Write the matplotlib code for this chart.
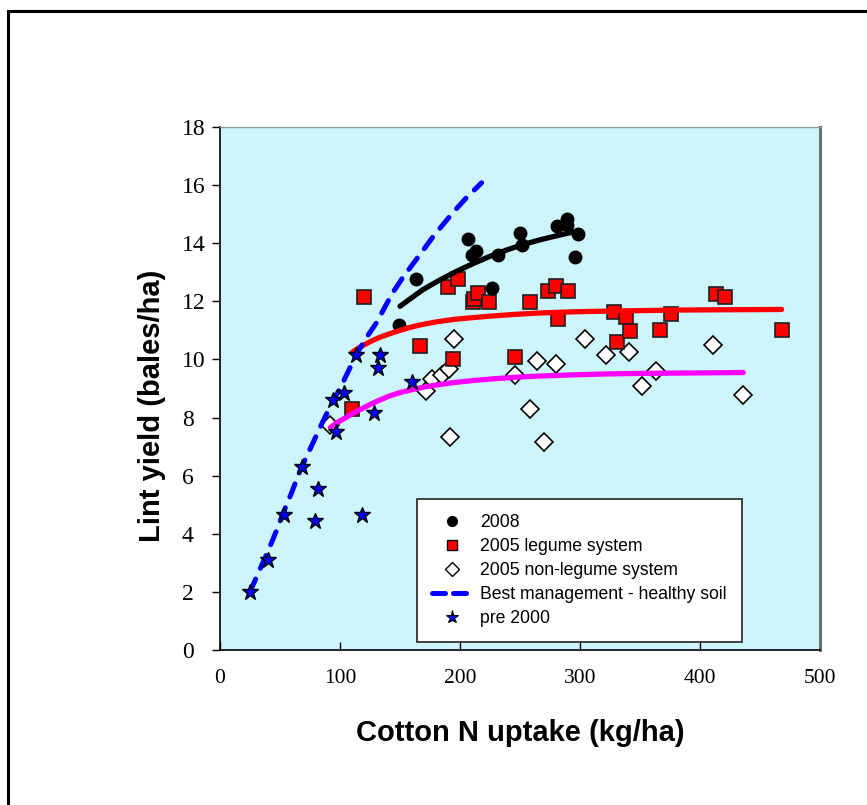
import matplotlib
matplotlib.use("Agg")
import matplotlib.pyplot as plt
from matplotlib.lines import Line2D
from matplotlib.patches import Rectangle

# ---- data ----
# 2008 (black circles)
x_2008 = [149, 163, 207, 210, 213, 227, 232, 250, 252, 281, 289, 289, 296, 298]
y_2008 = [11.2, 12.76, 14.14, 13.59, 13.72, 12.45, 13.59, 14.34, 13.93, 14.59, 14.83, 14.62, 13.52, 14.31]

# 2005 legume system (red squares)
x_leg = [110, 120, 167, 190, 194, 198, 211, 212, 215, 224, 246, 258, 273, 280, 282,
         290, 328, 331, 338, 342, 367, 376, 413, 421, 468]
y_leg = [8.28, 12.14, 10.45, 12.48, 10.0, 12.76, 11.97, 12.07, 12.28, 11.97, 10.1, 11.97, 12.34, 12.52, 11.38,
         12.34, 11.62, 10.59, 11.45, 10.97, 11.0, 11.55, 12.24, 12.14, 11.03]

# 2005 non-legume system (white diamonds)
x_non = [92, 172, 177, 185, 191, 192, 195, 246, 258, 264, 270, 280, 304, 322, 341, 352, 363, 411, 436]
y_non = [7.76, 8.9, 9.31, 9.48, 9.66, 7.34, 10.69, 9.45, 8.31, 9.93, 7.17, 9.86, 10.69, 10.17, 10.24,
         9.07, 9.59, 10.48, 8.76]

# pre 2000 (blue stars)
x_pre = [25, 40, 53, 68, 79, 82, 94, 97, 103, 113, 118, 128, 132, 133, 160]
y_pre = [2.0, 3.1, 4.66, 6.31, 4.45, 5.55, 8.62, 7.52, 8.83, 10.17, 4.66, 8.17, 9.72, 10.17, 9.24]

# fitted curves
x_best = [25, 33, 40, 47, 53, 60, 67, 76, 85, 92, 100, 107, 114, 122, 131, 138, 144, 152,
          161, 170, 178, 186, 194, 205, 218]
y_best = [2.0, 2.75, 3.4, 4.1, 4.75, 5.45, 6.2, 7.0, 7.8, 8.4, 9.0, 9.6, 10.2, 10.75, 11.3,
          11.85, 12.3, 12.8, 13.3, 13.8, 14.25, 14.65, 15.05, 15.55, 16.08]

x_fit08 = [150, 160, 169, 183, 197, 211, 225, 239, 253, 267, 281, 298]
y_fit08 = [11.83, 12.13, 12.4, 12.73, 13.03, 13.3, 13.55, 13.77, 13.96, 14.12, 14.26, 14.42]

x_fitleg = [110, 115, 120, 126, 133, 141, 150, 158, 167, 180, 195, 208, 222, 245, 267, 295,
            320, 350, 380, 420, 468]
y_fitleg = [10.24, 10.38, 10.5, 10.63, 10.76, 10.88, 11.0, 11.1, 11.19, 11.29, 11.38, 11.43,
            11.48, 11.55, 11.6, 11.64, 11.66, 11.68, 11.7, 11.71, 11.72]

x_fitnon = [92, 98, 105, 111, 117, 125, 133, 141, 150, 160, 170, 182, 194, 212, 230, 248,
            267, 295, 320, 350, 380, 410, 436]
y_fitnon = [7.66, 7.84, 8.0, 8.15, 8.28, 8.45, 8.6, 8.74, 8.86, 8.96, 9.05, 9.13, 9.2, 9.28,
            9.34, 9.39, 9.43, 9.47, 9.5, 9.52, 9.53, 9.54, 9.55]

labels = ["2008", "2005 legume system", "2005 non-legume system",
          "Best management - healthy soil", "pre 2000"]

# ---- figure ----
fig = plt.figure(figsize=(8.67, 8.05), dpi=100)
ax = fig.add_axes([220/867, 1-650/805, 600/867, 523/805])
ax.set_facecolor("#ccf6fc")

ax.plot(x_non, y_non, "D", ms=9, mfc="white", mec="black", mew=1.2, ls="none", zorder=3)
ax.plot(x_leg, y_leg, "s", ms=10, mfc="#ff0000", mec="#202020", mew=1.2, ls="none", zorder=3)
ax.plot(x_2008, y_2008, "o", ms=9, mfc="black", mec="black", ls="none", zorder=3)

ax.plot(x_fitnon, y_fitnon, color="#ff00ff", lw=3.8, solid_capstyle="round", zorder=4)
ax.plot(x_fitleg, y_fitleg, color="#ff0000", lw=3.8, solid_capstyle="round", zorder=4)
ax.plot(x_fit08, y_fit08, color="black", lw=3.8, solid_capstyle="round", zorder=4)
ax.plot(x_best, y_best, color="#0000ff", lw=3.6, dashes=(2.8, 2.35), dash_capstyle="round", zorder=5)

ax.plot(x_pre, y_pre, "*", ms=12, mfc="#0000ff", mec="black", mew=1.0, ls="none", zorder=6)

ax.set_xlim(0, 500)
ax.set_ylim(0, 18)
ax.set_xticks(range(0, 501, 100))
ax.set_yticks(range(0, 19, 2))

for s in ["left", "bottom"]:
    ax.spines[s].set_color("black")
    ax.spines[s].set_linewidth(1.2)
ax.spines["top"].set_color("#8a9a9c")
ax.spines["top"].set_linewidth(1.0)
ax.spines["right"].set_color("#5f7478")
ax.spines["right"].set_linewidth(2.2)

ax.tick_params(axis="y", direction="out", length=6, width=1, pad=21.5,
               labelsize=17, labelfontfamily="Liberation Serif")
ax.tick_params(axis="x", direction="in", length=6, width=1, pad=14,
               labelsize=15.5, labelfontfamily="Liberation Serif")
ax.tick_params(axis="x", which="both", top=False)
ax.tick_params(axis="y", which="both", right=False)
for lab in ax.get_yticklabels():
    lab.set_horizontalalignment("left")

ax.set_xlabel("Cotton N uptake (kg/ha)", fontsize=21, fontweight="bold",
              family="Liberation Sans", labelpad=22)
ax.set_ylabel("Lint yield (bales/ha)", fontsize=21, fontweight="bold",
              family="Liberation Sans")
ax.yaxis.set_label_coords(-0.09, 0.4665)

handles = [
    Line2D([], [], ls="none", marker="o", ms=7, mfc="black", mec="black"),
    Line2D([], [], ls="none", marker="s", ms=7.5, mfc="#ff0000", mec="black", mew=1),
    Line2D([], [], ls="none", marker="D", ms=7, mfc="white", mec="black", mew=1),
    Line2D([], [], color="#0000ff", lw=3.6, dashes=(2.6, 1.6), dash_capstyle="round"),
    Line2D([], [], ls="none", marker="*", ms=9.5, mfc="#0000ff", mec="black", mew=0.8),
]
leg = ax.legend(handles, labels, loc="upper left",
                bbox_to_anchor=(417/867, 1-499/805), bbox_transform=fig.transFigure,
                borderaxespad=0, fancybox=False, framealpha=1, edgecolor="#333333",
                prop={"family": "Liberation Sans", "size": 12.7},
                handlelength=2.3, handletextpad=0.45, labelspacing=0.4, borderpad=0.85)
leg.get_frame().set_linewidth(1.3)
leg.set_zorder(10)

# outer frame (left and top edges visible)
fig.patches.append(Rectangle((8/867, -0.1), 1.2, 1.1 - 11/805, transform=fig.transFigure,
                             fill=False, ec="black", lw=2.2))

fig.savefig("out.png", dpi=100, facecolor="white")
